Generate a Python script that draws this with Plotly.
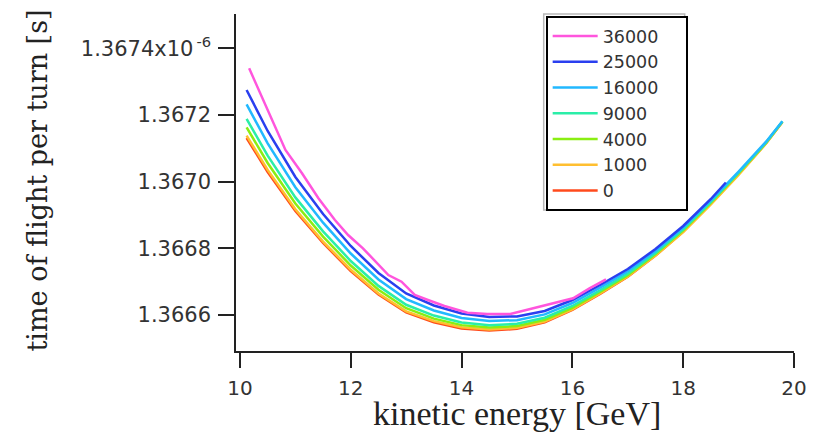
import plotly.graph_objects as go

# kinetic energy [GeV]
energy_full = [10.12, 10.5, 11, 11.5, 12, 12.5, 13, 13.5, 14, 14.5, 15, 15.5, 16, 16.5,
               17, 17.5, 18, 18.5, 19, 19.5, 19.79]
energy_25000 = [10.12, 10.5, 11, 11.5, 12, 12.5, 13, 13.5, 14, 14.5, 15, 15.5, 16, 16.5,
                17, 17.5, 18, 18.5, 18.77]
energy_36000 = [10.166, 10.523, 10.821, 11.120, 11.416, 11.714, 11.952, 12.220, 12.5, 12.679,
                12.916, 13.155, 13.393, 13.691, 14.107, 14.464, 14.880, 15.179, 15.655,
                16.013, 16.309, 16.607]

# time of flight per turn, in units of 1e-6 s
tof_0 = [1.367131, 1.367029, 1.366912, 1.366816, 1.366732, 1.3666615, 1.3666081, 1.3665781,
         1.3665598, 1.3665532, 1.3665586, 1.3665784, 1.366615, 1.3666633, 1.3667146,
         1.3667782, 1.3668502, 1.3669342, 1.367023, 1.367116, 1.367179]
tof_1000 = [1.3671382, 1.3670352, 1.3669171, 1.3668204, 1.3667358, 1.3666647, 1.3666109,
            1.3665816, 1.366563, 1.3665562, 1.3665615, 1.3665806, 1.3666165, 1.3666646,
            1.3667158, 1.3667782, 1.3668490, 1.3669318, 1.3670205, 1.3671150, 1.3671792]
tof_4000 = [1.3671627, 1.3670561, 1.3669344, 1.3668351, 1.3667485, 1.3666757, 1.3666205,
            1.3665892, 1.3665696, 1.3665622, 1.3665668, 1.3665858, 1.3666216, 1.3666692,
            1.3667197, 1.3667826, 1.3668539, 1.3669372, 1.3670253, 1.3671175, 1.3671798]
tof_9000 = [1.3671886, 1.3670782, 1.3669528, 1.3668508, 1.366762, 1.3666873, 1.3666307,
            1.3665983, 1.3665777, 1.3665695, 1.3665735, 1.3665918, 1.366627, 1.366674,
            1.366724, 1.3667861, 1.3668569, 1.3669397, 1.3670272, 1.3671186, 1.3671804]
tof_16000 = [1.3672318, 1.3671151, 1.3669834, 1.3668769, 1.3667845, 1.3667067, 1.3666476,
             1.3666134, 1.3665911, 1.3665818, 1.3665846, 1.3666019, 1.366636, 1.366682,
             1.366731, 1.3667921, 1.366862, 1.3669439, 1.3670304, 1.3671206, 1.3671815]
tof_25000 = [1.367275, 1.367152, 1.367014, 1.366903, 1.366807, 1.366726, 1.3666645, 1.3666285,
             1.3666045, 1.366594, 1.3665958, 1.366612, 1.366645, 1.36669, 1.366738, 1.366798,
             1.366867, 1.366948, 1.3669975]
tof_36000 = [1.3673401, 1.3672051, 1.367095, 1.3670251, 1.3669501, 1.366885, 1.36684,
             1.3668001, 1.36675, 1.36672, 1.3667, 1.36666, 1.366645, 1.366627, 1.366607,
             1.366603, 1.366603, 1.366615, 1.366635, 1.36665, 1.36668, 1.366707]

series_names = ["0", "1000", "4000", "9000", "16000", "25000", "36000"]
series_x = [energy_full, energy_full, energy_full, energy_full, energy_full, energy_25000, energy_36000]
series_y = [tof_0, tof_1000, tof_4000, tof_9000, tof_16000, tof_25000, tof_36000]
series_colors = ["#ff4a1c", "#ffbf30", "#8aee12", "#2aeea8", "#22b8ff", "#2a3fef", "#ff55dd"]

x_ticks = [10, 12, 14, 16, 18, 20]
y_ticks = [1.3666, 1.3668, 1.3670, 1.3672, 1.3674]
y_ticktext = ["1.3666", "1.3668", "1.3670", "1.3672", "1.3674x10<sup>\u2009-6</sup>"]

fig = go.Figure()
for name, xs, ys, col in zip(series_names, series_x, series_y, series_colors):
    fig.add_trace(go.Scatter(x=xs, y=ys, mode="lines", name=name + "\u00a0" * 4,
                             line=dict(color=col, width=2.5)))

W, H = 564, 337  # plot area size in px (left 236, top 14)
fig.update_layout(
    width=819, height=432,
    margin=dict(l=236, r=19, t=14, b=81),
    paper_bgcolor="white", plot_bgcolor="white",
    showlegend=True,
    legend=dict(traceorder="reversed", x=(549 - 236) / W, y=(351 - 16) / H,
                xanchor="left", yanchor="top", bgcolor="white", bordercolor="black",
                borderwidth=2, font=dict(family="DejaVu Sans", size=17.5, color="#333"),
                itemwidth=45, tracegroupgap=0),
    shapes=[dict(type="rect", xref="paper", yref="paper",
                 x0=(547 - 236) / W, x1=(689.5 - 236) / W,
                 y0=(351 - 210) / H, y1=(351 - 14) / H,
                 line=dict(color="#b8b8b8", width=1.5), fillcolor="rgba(0,0,0,0)",
                 layer="above")],
    xaxis=dict(range=[9.9286, 20.0], tickvals=x_ticks, ticks="outside", ticklen=15,
               tickwidth=1.5, tickcolor="#222", showline=True, linecolor="#222",
               linewidth=1.5, showgrid=False, zeroline=False,
               tickfont=dict(family="DejaVu Sans", size=20, color="#333"),
               ticklabelstandoff=3),
    yaxis=dict(range=[1.366492, 1.367503], tickvals=y_ticks, ticktext=y_ticktext,
               ticks="outside", ticklen=16, tickwidth=1.5, tickcolor="#222",
               showline=True, linecolor="#222", linewidth=1.5, showgrid=False,
               zeroline=False, tickfont=dict(family="DejaVu Sans", size=21, color="#333"),
               ticklabelstandoff=3),
    annotations=[
        dict(text="kinetic energy [GeV]", xref="paper", yref="paper", x=0.5, y=0,
             xshift=2, yshift=-62, xanchor="center", yanchor="middle", showarrow=False,
             font=dict(family="Liberation Serif", size=34, color="#222")),
        dict(text="time of flight per turn [s]", xref="paper", yref="paper", x=0, y=0.5,
             xshift=-199, yshift=2, xanchor="center", yanchor="middle", textangle=-90,
             showarrow=False, font=dict(family="DejaVu Serif", size=27, color="#222")),
    ],
)

fig.write_html("out.html")
